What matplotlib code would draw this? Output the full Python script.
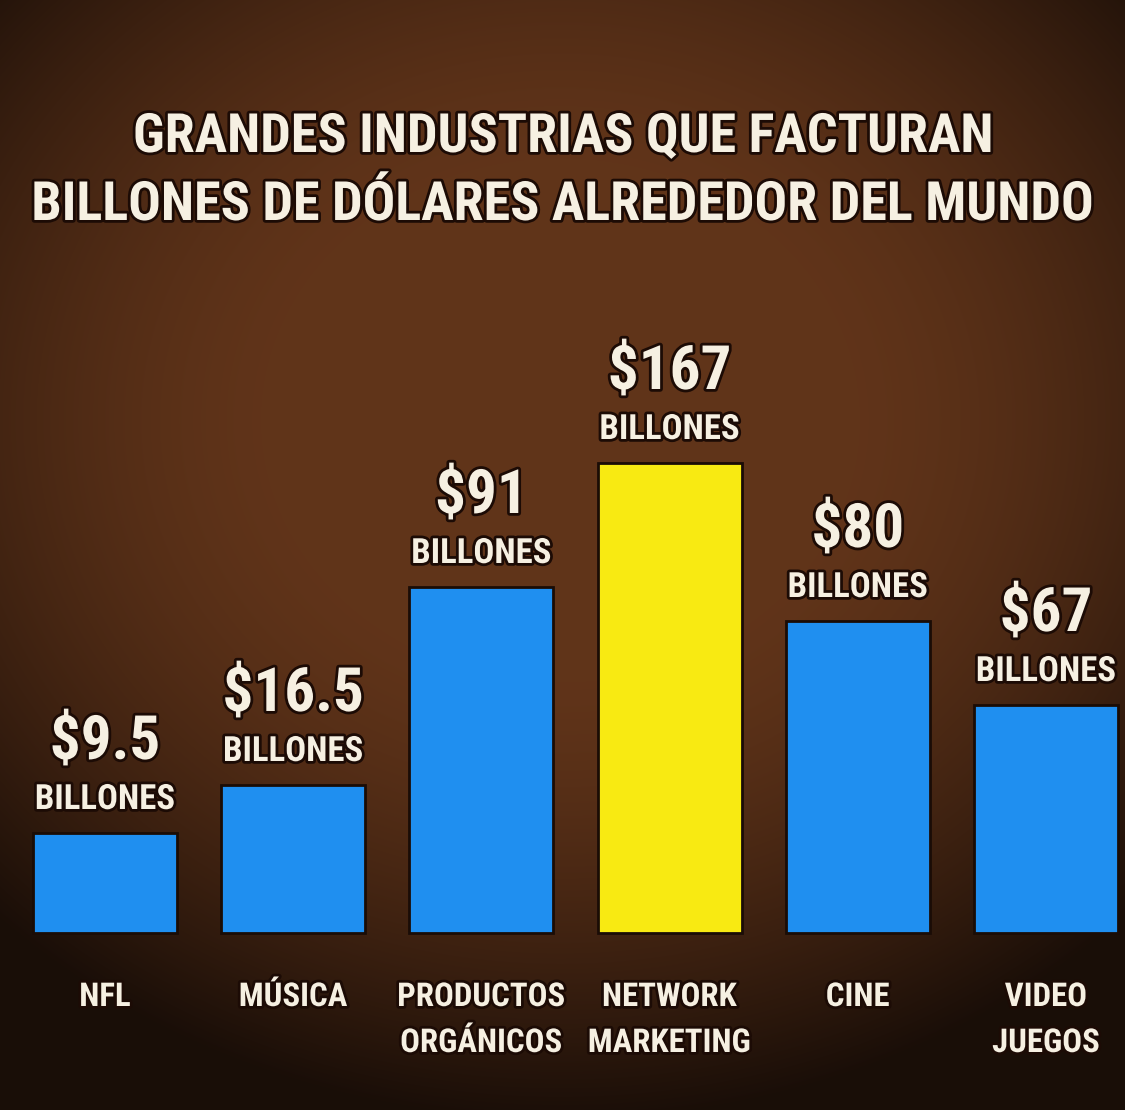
import matplotlib
matplotlib.use("Agg")
import matplotlib.pyplot as plt
import matplotlib.patheffects as pe
from matplotlib import font_manager
import numpy as np

# data
categorias = ["NFL", "MÚSICA", "PRODUCTOS\nORGÁNICOS", "NETWORK\nMARKETING", "CINE", "VIDEO\nJUEGOS"]
valores = ["$9.5", "$16.5", "$91", "$167", "$80", "$67"]
# bar heights as drawn in the infographic (not to scale with the values)
alturas = [100, 148, 346, 470, 312, 228]
colores = ["#1f8ff0", "#1f8ff0", "#1f8ff0", "#f8ea12", "#1f8ff0", "#1f8ff0"]
titulo = ["GRANDES INDUSTRIAS QUE FACTURAN", "BILLONES DE DÓLARES ALREDEDOR DEL MUNDO"]

def pick_font():
    for name in ["Roboto Condensed", "Liberation Sans Narrow", "DejaVu Sans Condensed"]:
        try:
            font_manager.findfont(font_manager.FontProperties(family=name), fallback_to_default=False)
            return name
        except Exception:
            pass
    return "DejaVu Sans"

FONT = pick_font()
TXT = "#f6f0e2"
shadow = [pe.withStroke(linewidth=4, foreground="#1c0b05")]

fig = plt.figure(figsize=(11.25, 11.10), dpi=100)

# radial brown background, dark corners
bg = fig.add_axes([0, 0, 1, 1])
yy, xx = np.mgrid[0:1110, 0:1125]
r = np.sqrt(((xx - 560) / 800.0) ** 2 + ((yy - 420) / 700.0) ** 2)
t = np.clip((r - 0.35) / 0.65, 0, 1) ** 1.5
c0 = np.array([0.38, 0.205, 0.10])
c1 = np.array([0.10, 0.055, 0.03])
img = c0[None, None, :] * (1 - t[..., None]) + c1[None, None, :] * t[..., None]
bg.imshow(img, aspect="auto", extent=[0, 1125, 1110, 0])
bg.axis("off")

ax = fig.add_axes([0, 0, 1, 1])
ax.patch.set_alpha(0)
step = 188.2
ax.set_xlim(-105 / step, (1125 - 105) / step)
ax.set_ylim(-177, 933)
ax.axis("off")

x = np.arange(len(categorias))
ax.bar(x, alturas, width=0.765, color=colores, edgecolor="#1a0c06", linewidth=2, zorder=2)

renderer = fig.canvas.get_renderer()

def fit_group(texts, targets):
    # one common size for the group, shrunk so every text fits its width
    s = min(min(1.0, w / tx.get_window_extent(renderer).width) for tx, w in zip(texts, targets))
    for tx in texts:
        tx.set_fontsize(tx.get_fontsize() * s)

kw = dict(ha="center", va="baseline", fontweight="bold", family=FONT, color=TXT,
          path_effects=shadow, zorder=3)

vals, bills = [], []
for i, (v, h) in enumerate(zip(valores, alturas)):
    vals.append(ax.text(i, h + 74, v, fontsize=44, **kw))
    bills.append(ax.text(i, h + 24, "BILLONES", fontsize=30, **kw))
fit_group(vals, [120, 160, 110, 140, 110, 110])
fit_group(bills, [140] * 6)

cats = []
for i, c in enumerate(categorias):
    for j, ln in enumerate(c.split("\n")):
        cats.append(ax.text(i, -73 - 46 * j, ln, fontsize=32, **kw))
fit_group(cats, [120 if len(tx.get_text()) < 7 else 168 for tx in cats])

tits = [ax.text((563 - 105) / step, yb, ln, fontsize=44, **kw)
        for ln, yb in zip(titulo, [781, 713])]
fit_group(tits, [860, 1070])

fig.savefig("out.png", dpi=100)
